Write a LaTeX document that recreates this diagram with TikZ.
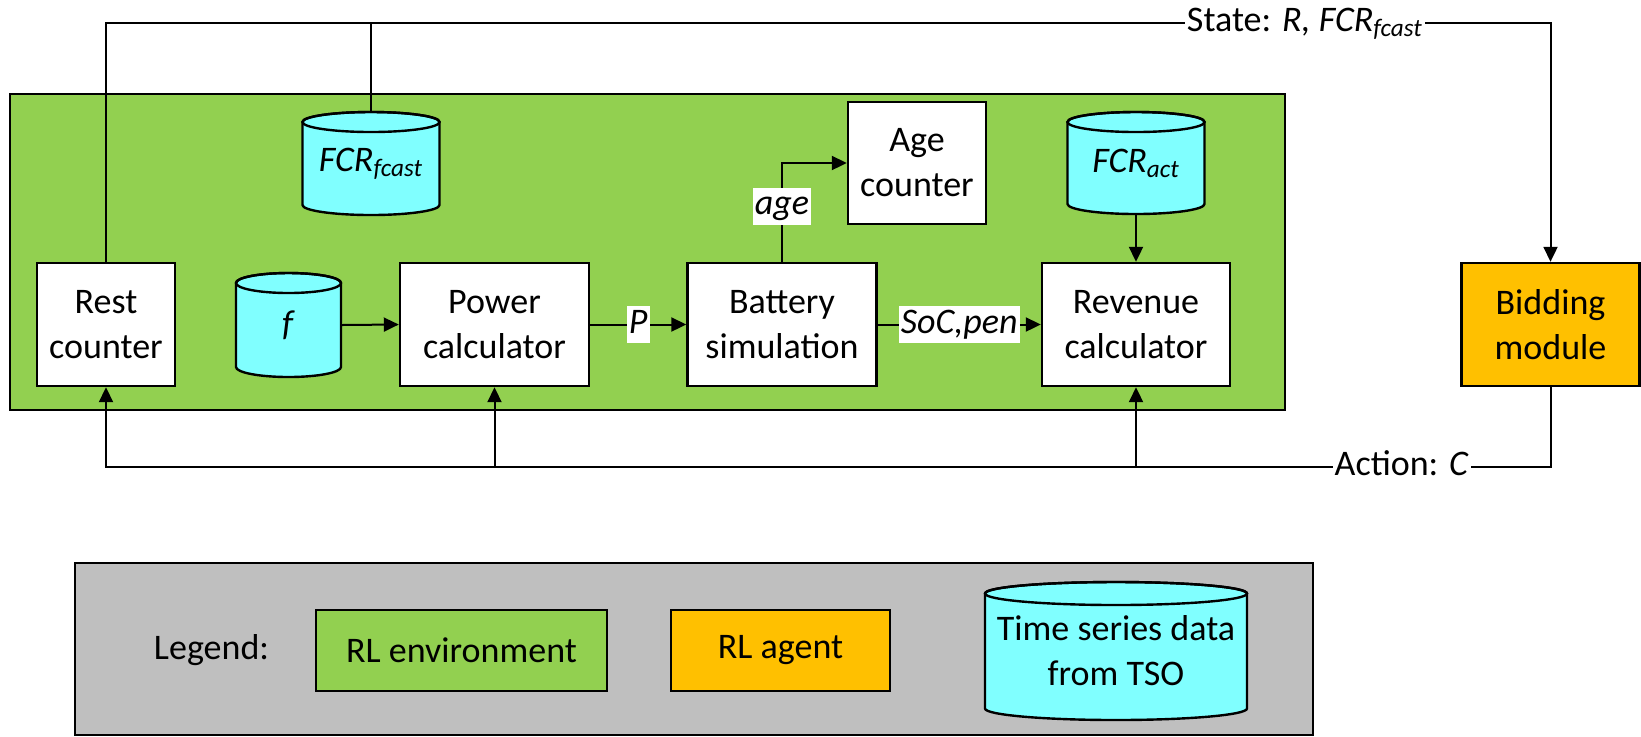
\documentclass[tikz,border=0pt]{standalone}
\usepackage{fontspec}
\setmainfont{Carlito}
\usetikzlibrary{arrows.meta}
\definecolor{envgreen}{HTML}{92D050}
\definecolor{agentorange}{HTML}{FFC000}
\definecolor{dbcyan}{HTML}{80FFFF}
\definecolor{legendgray}{HTML}{BFBFBF}
\tikzset{
  box/.style={draw=black, line width=1.2pt, fill=white, align=center, inner sep=0pt},
  conn/.style={line width=1pt},
  arr/.style={conn, -{Triangle[length=7.5pt,width=7pt]}},
  lbl/.style={fill=white, inner xsep=1pt, inner ysep=0pt, text height=13.5pt, text depth=5pt},
  cylline/.style={line width=1.2pt},
  frame/.style={draw=black, line width=1.2pt},
}
% name, cx, top, width, height, ry, text   (all in px units)
\newcommand\dbcyl[7]{%
  \pgfmathsetmacro\cylL{#2-#4/2}%
  \pgfmathsetmacro\cylR{#2+#4/2}%
  \pgfmathsetmacro\cylT{#3+#6}%
  \pgfmathsetmacro\cylB{#3+#5-#6}%
  \pgfmathsetmacro\cylRx{#4/4}%
  \pgfmathsetmacro\cylRy{#6/2}%
  \pgfmathsetmacro\cylW{#4/2}%
  \pgfmathsetmacro\cylH{#5/2}%
  \filldraw[cylline, fill=dbcyan] (\cylL,\cylT) -- (\cylL,\cylB)
    arc[start angle=180,end angle=360,x radius=\cylRx pt,y radius=\cylRy pt]
    -- (\cylR,\cylT)
    arc[start angle=0,end angle=180,x radius=\cylRx pt,y radius=\cylRy pt] -- cycle;
  \draw[cylline] (#2,\cylT) ellipse[x radius=\cylRx pt, y radius=\cylRy pt];
  \node[inner sep=0pt, align=center, minimum width=\cylW pt, minimum height=\cylH pt] (#1) at (#2,#3+#5/2) {#7};
}
\begin{document}
\begin{tikzpicture}[x=0.5pt, y=-0.5pt, every node/.style={font=\fontsize{18}{22.5}\selectfont}]
\useasboundingbox (0,0) rectangle (1641,736);

% RL environment frame
\filldraw[frame, fill=envgreen] (10,94) rectangle (1285,410);

% blocks
\node[box, minimum width=69pt, minimum height=61.5pt] (rest) at (106,324.5) {Rest\\counter};
\node[box, minimum width=94.5pt, minimum height=61.5pt] (pow) at (494.5,324.5) {Power\\calculator};
\node[box, minimum width=94.5pt, minimum height=61.5pt] (bat) at (782,324.5) {Battery\\simulation};
\node[box, minimum width=94pt, minimum height=61.5pt] (rev) at (1136,324.5) {Revenue\\calculator};
\node[box, fill=agentorange, minimum width=89pt, minimum height=61.5pt] (bid) at (1550.5,324.5) {Bidding\\module};
\node[box, minimum width=69pt, minimum height=61pt] (age) at (917,163) {Age\\counter};

% databases
\dbcyl{fcrF}{371}{112}{137}{103}{10}{\textit{FCR}\textsubscript{\textit{fcast}}}
\dbcyl{fdb}{288.5}{273}{105}{104}{10}{\textit{f}}
\dbcyl{fcrA}{1136}{112}{137}{102}{10}{\textit{FCR}\textsubscript{\textit{act}}}

% helper levels
\coordinate (topY) at (0,23);
\coordinate (botY) at (0,467);

% state loop
\draw[arr] (rest.north) -- (rest.north |- topY)
  -- node[lbl, pos=0.83] {State: \textit{R, FCR}\textsubscript{\textit{fcast}}} (bid.north |- topY)
  -- (bid.north);
\draw[conn] (fcrF.north) -- (fcrF.north |- topY);

% action loop
\draw[arr] (bid.south) -- (bid.south |- botY)
  -- node[lbl, pos=0.103] {Action: \textit{C}} (rest.south |- botY)
  -- (rest.south);
\draw[arr] (pow.south |- botY) -- (pow.south);
\draw[arr] (rev.south |- botY) -- (rev.south);

% inner flow
\draw[arr] (fdb.east) -- (pow.west);
\draw[arr] (pow.east) -- node[lbl] {\textit{P}} (bat.west);
\draw[arr] (bat.east) -- node[lbl] {\textit{SoC,pen}} (rev.west);
\draw[arr] (bat.north) |- node[lbl, pos=0.28] {\textit{age}} (age.west);
\draw[arr] (fcrA.south) -- (rev.north);

% legend
\filldraw[frame, fill=legendgray] (75,563) rectangle (1313,735);
\node (leg) at (211.5,650) {Legend:};
\node[box, fill=envgreen, minimum width=145.5pt, minimum height=40.5pt] (legenv) at (461.5,650.5) {RL environment};
\node[box, fill=agentorange, minimum width=109.5pt, minimum height=40.5pt] (legagent) at (780.5,650.5) {RL agent};
\dbcyl{legdb}{1116}{582}{262}{138}{11.5}{Time series data\\from TSO}
\end{tikzpicture}
\end{document}
